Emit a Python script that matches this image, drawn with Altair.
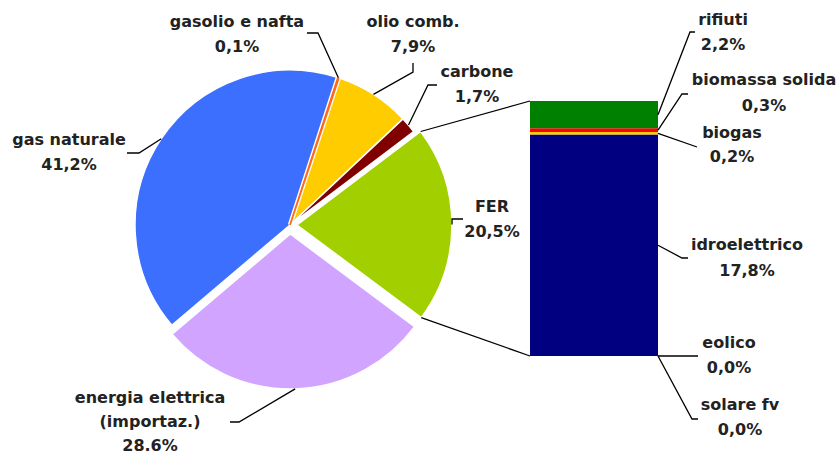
import math
import altair as alt
import pandas as pd

# ---------------- data ----------------
pie_cats = ["gasolio e nafta", "olio comb.", "carbone", "FER",
            "energia elettrica (importaz.)", "gas naturale"]
pie_vals = [0.1, 7.9, 1.7, 20.5, 28.6, 41.2]
pie_label_lines = [["gasolio e nafta", "0,1%"], ["olio comb.", "7,9%"],
                   ["carbone", "1,7%"], ["FER", "20,5%"],
                   ["energia elettrica", "(importaz.)", "28.6%"],
                   ["gas naturale", "41,2%"]]
pie_colors = ["#FF6A1A", "#FFCC00", "#800000", "#A2CF00", "#D0A4FF", "#3D6FFF"]

fer_cats = ["rifiuti", "biomassa solida", "biogas", "idroelettrico", "eolico", "solare fv"]
fer_vals = [2.2, 0.3, 0.2, 17.8, 0.0, 0.0]
fer_label_lines = [["rifiuti", "2,2%"], ["biomassa solida", "0,3%"], ["biogas", "0,2%"],
                   ["idroelettrico", "17,8%"], ["eolico", "0,0%"], ["solare fv", "0,0%"]]
fer_colors = ["#008000", "#FF0000", "#FFCC00", "#000080", "#4F81BD", "#C0C0C0"]

# ---------------- layout (pixels) ----------------
W, H = 840, 454
CX, CY, R = 290, 225, 155
START_DEG = 18.0
PIE_EXPLODE = [0, 0, 0, 7, 9, 0]
BAR_X0, BAR_X1, BAR_TOP, BAR_BOTTOM = 530, 658, 101, 356
FONT = "DejaVu Sans"
FSIZE = 16
TXT_COLOR = "#222222"

# (center x, first line y, line spacing)
PIE_LABEL_POS = [(237, 22, 25), (413, 22, 25), (477, 72, 25), (492, 207, 25),
                 (150, 398, 24), (69, 140, 25)]
PIE_LEADER = [[(307, 33), (318, 33)], [(413, 63), (413, 72)], [(437, 85), (428, 85)],
              [(463, 219), (452, 219)], [(230, 422), (239, 422)], [(127, 153), (139, 153)]]
FER_LABEL_POS = [(723, 20, 25), (764, 80, 26), (732, 133, 24), (747, 245, 26),
                 (729, 343, 25), (740, 405, 25)]
FER_LEADER = [[(695, 32), (690, 32)], [(688, 94), (682, 94)], [(697, 147)],
              [(688, 258), (682, 258)], [(698, 356)], [(698, 419), (692, 419)]]

# ---------------- derived tables ----------------
pie_total = sum(pie_vals)
fer_total = sum(fer_vals)


def ang(v):
    return math.radians(START_DEG + v / pie_total * 360.0)


rows = []
cum = 0.0
pie_geom = []
for i, (c, v) in enumerate(zip(pie_cats, pie_vals)):
    t0, t1 = cum, cum + v
    cum = t1
    mid = ang((t0 + t1) / 2)
    ex = PIE_EXPLODE[i]
    cx = CX + ex * math.sin(mid)
    cy = CY - ex * math.cos(mid)
    pie_geom.append((t0, t1, cx, cy, mid))
    rows.append(dict(cat=c, value=v, idx=i, cx=cx, cy=cy))
pie_df = pd.DataFrame(rows)

# bar stack from bottom (last category) to top
fer_rows = []
acc = 0.0
fer_mid = {}
for i in reversed(range(len(fer_cats))):
    y0, y1 = acc, acc + fer_vals[i]
    acc = y1
    fer_mid[i] = (y0 + y1) / 2
    fer_rows.append(dict(cat=fer_cats[i], value=fer_vals[i], idx=i, y0=y0, y1=y1))
fer_df = pd.DataFrame(fer_rows)


def bar_py(v):
    return BAR_BOTTOM - v / fer_total * (BAR_BOTTOM - BAR_TOP)


# leader lines
lead = []
for i in range(len(pie_cats)):
    t0, t1, cx, cy, mid = pie_geom[i]
    pts = PIE_LEADER[i] + [(cx + R * math.sin(mid), cy - R * math.cos(mid))]
    for k, (x, y) in enumerate(pts):
        lead.append(dict(key="p%d" % i, o=k, x=x, y=y))
for i in range(len(fer_cats)):
    pts = FER_LEADER[i] + [(BAR_X1, bar_py(fer_mid[i]))]
    for k, (x, y) in enumerate(pts):
        lead.append(dict(key="f%d" % i, o=k, x=x, y=y))
lead_df = pd.DataFrame(lead)

# connector lines from FER slice corners to bar corners
fi = pie_cats.index("FER")
t0, t1, fcx, fcy, _ = pie_geom[fi]
a0, a1 = ang(t0), ang(t1)
conn_df = pd.DataFrame([
    dict(x=fcx + R * math.sin(a0), y=fcy - R * math.cos(a0), x2=BAR_X0, y2=BAR_TOP),
    dict(x=fcx + R * math.sin(a1), y=fcy - R * math.cos(a1), x2=BAR_X0, y2=BAR_BOTTOM),
])

# text rows
txt = []
for lines, (x, y, lh) in list(zip(pie_label_lines, PIE_LABEL_POS)) + list(zip(fer_label_lines, FER_LABEL_POS)):
    for k, s in enumerate(lines):
        txt.append(dict(t=s, x=x, y=y + k * lh))
txt_df = pd.DataFrame(txt)

# ---------------- chart ----------------
start = math.radians(START_DEG)
theta_scale = alt.Scale(domain=[0, pie_total], range=[start, start + 2 * math.pi])
color_pie = alt.Scale(domain=pie_cats, range=pie_colors)

pie_base = alt.Chart(pie_df).transform_window(
    cum="sum(value)", sort=[alt.SortField("idx")], frame=[None, 0]
).transform_calculate(t0="datum.cum - datum.value")

pie_enc = dict(
    theta=alt.Theta("t0:Q", scale=theta_scale),
    theta2="cum:Q",
    x=alt.X("cx:Q", scale=None),
    y=alt.Y("cy:Q", scale=None),
    color=alt.Color("cat:N", scale=color_pie, legend=None),
)

pie = pie_base.transform_filter(alt.datum.idx > 0).mark_arc(
    outerRadius=R, stroke="white", strokeWidth=1.5).encode(**pie_enc)
pie_small_bg = pie_base.transform_filter(alt.datum.idx == 0).mark_arc(
    outerRadius=R, stroke="white", strokeWidth=4.5, fill="white").encode(
    **{k: v for k, v in pie_enc.items() if k != "color"})
pie_small = pie_base.transform_filter(alt.datum.idx == 0).mark_arc(
    outerRadius=R - 1, stroke=pie_colors[0], strokeWidth=1.8).encode(**pie_enc)

bar = alt.Chart(fer_df).mark_bar().encode(
    x=alt.value(BAR_X0), x2=alt.value(BAR_X1),
    y=alt.Y("y0:Q", scale=alt.Scale(domain=[0, fer_total], range=[BAR_BOTTOM, BAR_TOP]), axis=None),
    y2="y1:Q",
    color=alt.Color("cat:N", scale=alt.Scale(domain=fer_cats, range=fer_colors), legend=None),
)

conn = alt.Chart(conn_df).mark_rule(color="black", strokeWidth=1.2).encode(
    x=alt.X("x:Q", scale=None), y=alt.Y("y:Q", scale=None),
    x2="x2:Q", y2="y2:Q")

leaders = alt.Chart(lead_df).mark_line(color="black", strokeWidth=1.3).encode(
    x=alt.X("x:Q", scale=None), y=alt.Y("y:Q", scale=None),
    detail="key:N", order="o:Q")

labels = alt.Chart(txt_df).mark_text(
    font=FONT, fontSize=FSIZE, fontWeight="bold", color=TXT_COLOR,
    align="center", baseline="middle").encode(
    x=alt.X("x:Q", scale=None), y=alt.Y("y:Q", scale=None), text="t:N")

chart = alt.layer(pie, pie_small_bg, pie_small, bar, conn, leaders, labels).resolve_scale(
    x="independent", y="independent", color="independent", theta="independent"
).properties(
    width=W, height=H, padding=0, autosize=alt.AutoSizeParams(type="none"),
    background="white"
).configure_view(stroke=None)

chart.save("out.html", embed_options={"renderer": "svg", "actions": False})
